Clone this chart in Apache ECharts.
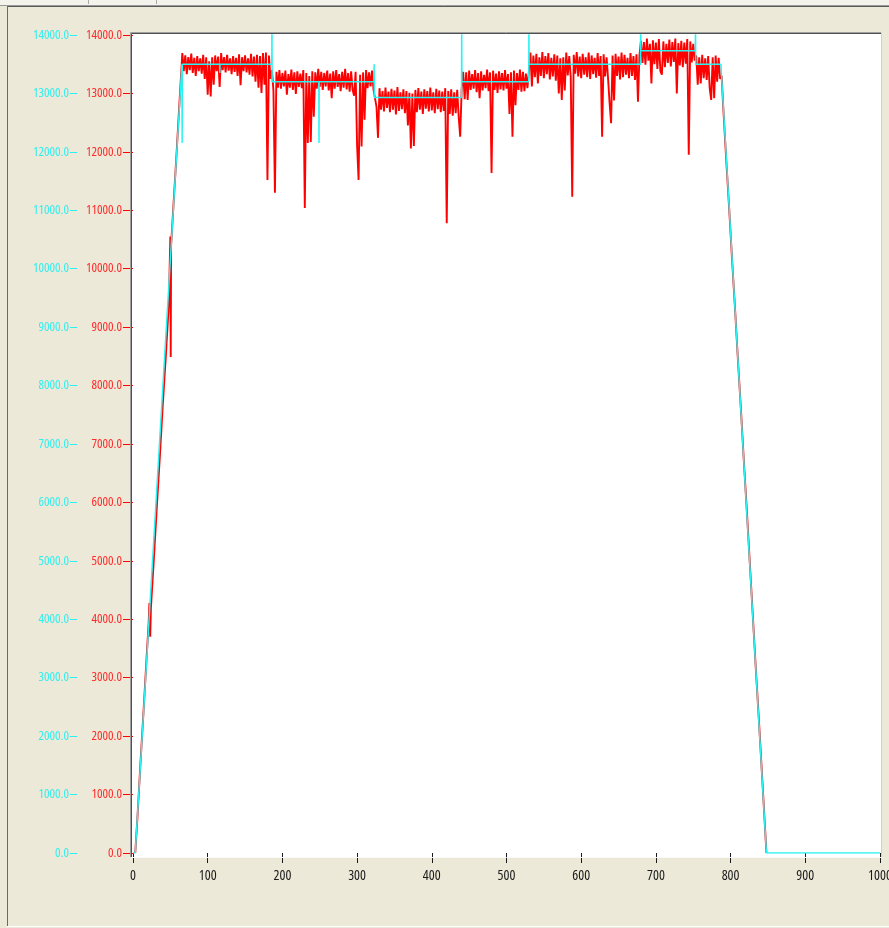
<!DOCTYPE html>
<html>
<head>
<meta charset="utf-8">
<script src="https://cdn.jsdelivr.net/npm/echarts@6/dist/echarts.min.js"></script>
<style>
html,body{margin:0;padding:0;background:#ECE9D8;overflow:hidden;}
#chart{width:889px;height:928px;}
</style>
</head>
<body>
<div id="chart"></div>
<script>
// ---- axis ticks ----
const xTicks = [0, 100, 200, 300, 400, 500, 600, 700, 800, 900, 1000];
const yTicks = [0, 1000, 2000, 3000, 4000, 5000, 6000, 7000, 8000, 9000, 10000, 11000, 12000, 13000, 14000];

// ---- cyan series (set speed) ----
const cyanTime  = [0, 3, 65.5, 65.8, 66.1, 116, 116.2, 116.4, 185.8, 186, 186.3, 248.8, 249, 249.2, 322.5, 322.8, 323.1, 439.8, 440, 440.3, 529.8, 530, 530.3, 679.4, 679.6, 679.9, 752.8, 753, 753.3, 787, 848, 1000];
const cyanSpeed = [0, 0, 13500, 12150, 13500, 13500, 13350, 13500, 13500, 14200, 13200, 13200, 12150, 13200, 13200, 13500, 12930, 12930, 14200, 13200, 13200, 14200, 13500, 13500, 14200, 13730, 13730, 14200, 13500, 13500, 0, 0];

// ---- red series (measured speed) ----
const rampUpTime  = [3, 6, 10, 14, 18, 21, 22, 23, 24, 28, 32, 36, 40, 44, 48, 50, 50.5, 51, 54, 58, 62, 65];
const rampUpSpeed = [0, 620, 1540, 2400, 3300, 3950, 4280, 3700, 4200, 5050, 5950, 6800, 7700, 8520, 9400, 10550, 8490, 10400, 11050, 11900, 12800, 13450];

const SAMPLE_STEP = 2;
const seg1Start = 66;
const seg1Speed = [13690,13380,13650,13330,13620,13400,13680,13350,13610,13300,13640,13380,13600,13340,13660,13250,13620,12980,13550,12950,13620,13150,13650,13380,13630,13110,13690,13400,13620,13360,13660,13390,13600,13330,13640,13370,13610,13300,13670,13140,13620,13380,13650,13360,13600,13320,13680,13290,13630,13200,13660,13100,13640,13010,13690,13150,13700,11520,13650,13250];
const seg2Start = 186;
const seg2Speed = [13400,13050,11300,13370,13100,13400,13080,13350,13120,13390,12980,13330,13100,13410,13060,13360,12990,13380,13110,13340,13090,13400,11040,13350,12150,13300,12170,13380,12600,13360,13080,13420,13110,13370,13060,13350,13120,13390,13050,13340,12920,13380,13080,13400,13110,13330,13040,13370,13100,13420,13070,13350,13030,13380,13060,12960,13370,12100,11520,13320,12090,13360,12550,13400,13090,13360,13120,13390,13060];
const seg3Start = 324;
const seg3Speed = [13060,12770,12240,13090,12720,13040,12690,13100,12750,13030,12680,13080,12720,13050,12640,13110,12700,13020,12730,13070,12660,13040,12450,13010,12060,13000,12100,13060,12680,13090,12720,13030,12650,13070,12740,13040,12690,13100,12710,13020,12660,13080,12730,13050,12680,13030,12700,13090,10780,13040,12650,13070,12620,13020,12660,13060,12600,12260,13080];
const seg4Start = 442;
const seg4Speed = [13370,12900,13360,12890,13390,13060,13330,13080,13400,13020,13350,12920,13380,13050,13320,13090,13410,13040,13360,11640,13390,13060,13340,13010,13380,13070,13350,13050,13400,13080,13330,12650,13360,12260,13390,12800,13350,13060,13410,13030,13370,13040,13340,13090,13380];
const seg5Start = 532;
const seg5Speed = [13700,13120,13650,13280,13680,13170,13620,13300,13710,13260,13640,13330,13690,13240,13610,13290,13670,13220,13650,13000,13600,12890,13620,13050,13700,13310,13640,13280,11230,13660,13340,13710,13290,13630,13260,13680,13320,13620,13280,13700,13250,13650,13330,13610,13270,13690,13300,13640,12260,13670,13290,13620,13250,12840,12490,13650,12880,13680,13300,13630,13240,13700,13280,13660,13320,13610,13260,13690,13300,13640,13230,13670,12860,13650];
const seg6Start = 680;
const seg6Speed = [13900,13520,13880,13490,13940,13560,13850,13170,13910,13500,13870,13420,13930,13380,13320,13890,13450,13850,13520,13920,13460,13880,13540,13940,13000,13860,13480,13900,13450,13870,13510,13930,11950,13890,13530,13850,13560];
const seg7Start = 754;
const seg7Speed = [13650,13150,13620,13170,13660,13260,13600,13230,13640,13090,12890,13620,12920,13650,13200,13610,13250];

const rampDownTime  = [788, 790, 794, 798, 802, 806, 810, 814, 818, 822, 826, 830, 834, 838, 842, 846, 848];
const rampDownSpeed = [13300, 12800, 11900, 11050, 10150, 9300, 8400, 7550, 6650, 5800, 4900, 4000, 3100, 2250, 1350, 450, 0];

// ---- build series data ----
function pairs(t, v) { return t.map((x, i) => [x, v[i]]); }
function segment(start, vals) { return vals.map((v, i) => [start + i * SAMPLE_STEP, v]); }
const redData = [].concat(
  pairs(rampUpTime, rampUpSpeed),
  segment(seg1Start, seg1Speed),
  segment(seg2Start, seg2Speed),
  segment(seg3Start, seg3Speed),
  segment(seg4Start, seg4Speed),
  segment(seg5Start, seg5Speed),
  segment(seg6Start, seg6Speed),
  segment(seg7Start, seg7Speed),
  pairs(rampDownTime, rampDownSpeed)
);
const cyanData = pairs(cyanTime, cyanSpeed);

// choose a narrow, regular-weight installed font (the original uses a tall condensed UI font)
function pickFont() {
  const ctx = document.createElement('canvas').getContext('2d');
  const sample = '14000.0';
  function width(font) { ctx.font = '100px monospace'; ctx.font = font; return ctx.measureText(sample).width; }
  const mono = width('100px monospace');
  const configs = [
    {style: 'extra-condensed', family: 'Noto Sans'},
    {style: 'condensed', family: 'Noto Sans'},
    {style: 'extra-condensed', family: 'Open Sans'},
    {style: 'condensed', family: 'Open Sans'},
    {style: 'normal', family: 'Liberation Sans Narrow'},
    {style: 'normal', family: 'DejaVu Sans Condensed'}
  ];
  for (const c of configs) {
    const base = width("normal normal 100px '" + c.family + "', monospace");
    if (Math.abs(base - mono) < 0.01) continue;
    if (c.style === 'normal') return {style: 'normal', family: "'" + c.family + "', sans-serif", w: base};
    const str = width(c.style + " normal 100px '" + c.family + "', monospace");
    if (str < base * 0.9) return {style: c.style, family: "'" + c.family + "', sans-serif", w: str};
  }
  return {style: 'normal', family: 'sans-serif', w: 400};
}
const picked = pickFont();
const FONT = picked.family;
const FONT_STYLE = picked.style;
const FONT_SIZE = Math.max(10, Math.min(15, Math.round(37 / (picked.w / 100))));

const CYAN = '#2AF2F2';
const RED = '#FF0000';

const chart = echarts.init(document.getElementById('chart'), null, {renderer: 'canvas'});

const yMin = yTicks[0], yMax = yTicks[yTicks.length - 1], yInt = yTicks[1] - yTicks[0];
const xMin = xTicks[0], xMax = xTicks[xTicks.length - 1], xInt = xTicks[1] - xTicks[0];

chart.setOption({
  animation: false,
  backgroundColor: '#ECE9D8',
  grid: {left: 133, right: 9, top: 35, bottom: 75, show: false, containLabel: false, outerBoundsMode: 'none'},
  graphic: [
    {type: 'rect', shape: {x: 0, y: 0, width: 889, height: 5}, style: {fill: '#F4F3EC'}, z: 0, silent: true},
    {type: 'line', shape: {x1: 88.5, y1: 0, x2: 88.5, y2: 4}, style: {stroke: '#A8A8A8', lineWidth: 1}, z: 1, silent: true},
    {type: 'line', shape: {x1: 156.5, y1: 0, x2: 156.5, y2: 4}, style: {stroke: '#A8A8A8', lineWidth: 1}, z: 1, silent: true},
    {type: 'line', shape: {x1: 0, y1: 5.5, x2: 889, y2: 5.5}, style: {stroke: '#9A9A9A', lineWidth: 1}, z: 1, silent: true},
    {type: 'line', shape: {x1: 7, y1: 6.5, x2: 889, y2: 6.5}, style: {stroke: '#5A5A5A', lineWidth: 1}, z: 1, silent: true},
    {type: 'line', shape: {x1: 7.5, y1: 6, x2: 7.5, y2: 926}, style: {stroke: '#6A6A6A', lineWidth: 1}, z: 1, silent: true},
    {type: 'line', shape: {x1: 7, y1: 926.5, x2: 889, y2: 926.5}, style: {stroke: '#FFFFFF', lineWidth: 1}, z: 1, silent: true},
    {type: 'rect', shape: {x: 131, y: 33, width: 750, height: 824}, style: {fill: '#FFFFFF'}, z: 0, silent: true},
    {type: 'line', shape: {x1: 130.5, y1: 32.5, x2: 881, y2: 32.5}, style: {stroke: '#A0A0A0', lineWidth: 1}, z: 1, silent: true},
    {type: 'line', shape: {x1: 130.5, y1: 32.5, x2: 130.5, y2: 857}, style: {stroke: '#A0A0A0', lineWidth: 1}, z: 1, silent: true},
    {type: 'line', shape: {x1: 131.5, y1: 33.5, x2: 881, y2: 33.5}, style: {stroke: '#505050', lineWidth: 1}, z: 1, silent: true},
    {type: 'line', shape: {x1: 131.5, y1: 33.5, x2: 131.5, y2: 857}, style: {stroke: '#505050', lineWidth: 1}, z: 1, silent: true},
    {type: 'line', shape: {x1: 881.5, y1: 32.5, x2: 881.5, y2: 858}, style: {stroke: '#D4D0C8', lineWidth: 1}, z: 1, silent: true},
    {type: 'line', shape: {x1: 131, y1: 857.5, x2: 882, y2: 857.5}, style: {stroke: '#F8F8F8', lineWidth: 1}, z: 1, silent: true}
  ],
  xAxis: {
    type: 'value', min: xMin, max: xMax, interval: xInt, position: 'bottom', offset: 9,
    axisLine: {show: false},
    axisTick: {show: true, length: 10, lineStyle: {color: '#1A1A1A', width: 1}},
    axisLabel: {show: true, margin: 7, color: '#1A1A1A', fontFamily: FONT, fontStyle: FONT_STYLE, fontWeight: 'normal', fontSize: FONT_SIZE + 1, formatter: v => String(v), showMinLabel: true, showMaxLabel: true, hideOverlap: false},
    splitLine: {show: false}
  },
  yAxis: [
    {
      type: 'value', min: yMin, max: yMax, interval: yInt, position: 'left', offset: 0,
      axisLine: {show: false},
      axisTick: {show: true, length: 10, lineStyle: {color: RED, width: 1}},
      axisLabel: {show: true, margin: 11, color: '#FF2A2A', fontFamily: FONT, fontStyle: FONT_STYLE, fontWeight: 'normal', fontSize: FONT_SIZE, formatter: v => v.toFixed(1), showMinLabel: true, showMaxLabel: true, hideOverlap: false},
      splitLine: {show: false}
    },
    {
      type: 'value', min: yMin, max: yMax, interval: yInt, position: 'left', offset: 56,
      axisLine: {show: false},
      axisTick: {show: true, length: 7, lineStyle: {color: CYAN, width: 1}},
      axisLabel: {show: true, margin: 8, color: '#33EEEE', fontFamily: FONT, fontStyle: FONT_STYLE, fontWeight: 'normal', fontSize: FONT_SIZE, formatter: v => v.toFixed(1), showMinLabel: true, showMaxLabel: true, hideOverlap: false},
      splitLine: {show: false}
    }
  ],
  series: [
    {
      name: 'measured', type: 'line', yAxisIndex: 0, data: redData, showSymbol: false, symbol: 'none',
      lineStyle: {color: RED, width: 1.9}, clip: true, z: 2, silent: true
    },
    {
      name: 'set', type: 'line', yAxisIndex: 1, data: cyanData, showSymbol: false, symbol: 'none',
      lineStyle: {color: CYAN, width: 1.5}, clip: true, z: 3, silent: true
    }
  ]
});
</script>
</body>
</html>
